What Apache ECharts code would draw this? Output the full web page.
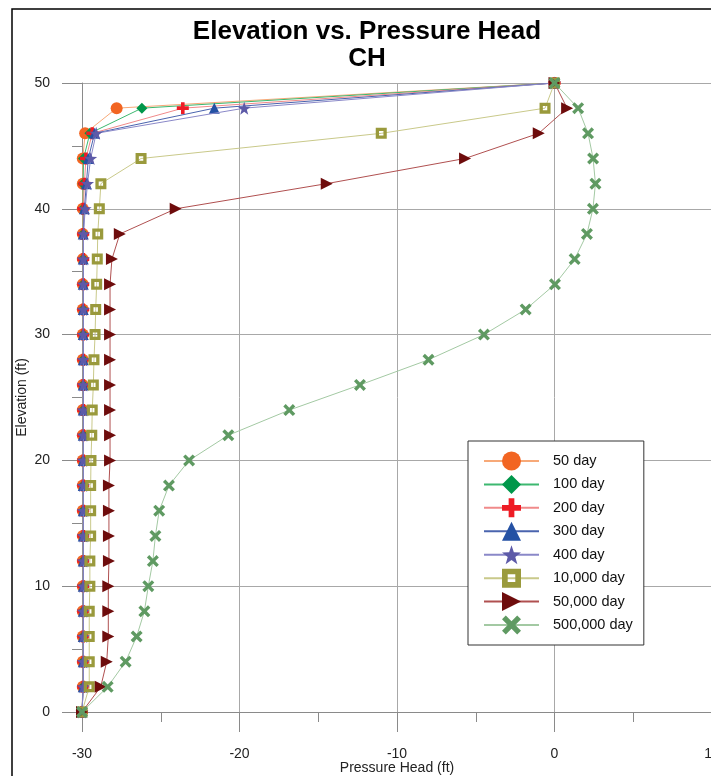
<!DOCTYPE html>
<html>
<head>
<meta charset="utf-8">
<script src="https://cdn.jsdelivr.net/npm/echarts@6/dist/echarts.min.js"></script>
<style>
html,body{margin:0;padding:0;background:#fff;}
#chart{width:711px;height:776px;}
</style>
</head>
<body>
<div id="chart"></div>
<script>
// Elevation (ft) for every point, bottom to top
const elevation = [0, 2, 4, 6, 8, 10, 12, 14, 16, 18, 20, 22, 24, 26, 28, 30, 32, 34, 36, 38, 40, 42, 44, 46, 48, 50];

// Pressure head (ft) per series, same order as elevation
const day50 = [-30, -29.95, -29.95, -29.95, -29.95, -29.95, -29.95, -29.95, -29.95, -29.95, -29.95, -29.95, -29.95, -29.95, -29.95, -29.95, -29.95, -29.95, -29.95, -29.95, -29.95, -29.95, -29.95, -29.8, -27.8, 0];
const day100 = [-30, -29.93, -29.93, -29.93, -29.93, -29.93, -29.93, -29.93, -29.93, -29.93, -29.93, -29.93, -29.93, -29.93, -29.93, -29.93, -29.93, -29.93, -29.93, -29.93, -29.93, -29.93, -29.9, -29.5, -26.2, 0];
const day200 = [-30, -29.92, -29.92, -29.92, -29.92, -29.92, -29.92, -29.92, -29.92, -29.92, -29.92, -29.92, -29.92, -29.92, -29.92, -29.92, -29.92, -29.92, -29.92, -29.92, -29.92, -29.85, -29.75, -29.35, -23.6, 0];
const day300 = [-30, -29.92, -29.92, -29.92, -29.92, -29.92, -29.92, -29.92, -29.92, -29.92, -29.92, -29.92, -29.92, -29.92, -29.92, -29.92, -29.92, -29.92, -29.92, -29.92, -29.85, -29.72, -29.6, -29.2, -21.6, 0];
const day400 = [-30, -29.92, -29.92, -29.92, -29.92, -29.92, -29.92, -29.92, -29.92, -29.92, -29.92, -29.92, -29.92, -29.92, -29.92, -29.92, -29.92, -29.92, -29.92, -29.9, -29.8, -29.65, -29.45, -29.1, -19.7, 0];
const day10000 = [-30, -29.54, -29.54, -29.54, -29.54, -29.5, -29.5, -29.45, -29.45, -29.45, -29.43, -29.38, -29.35, -29.28, -29.24, -29.17, -29.13, -29.07, -29.03, -29.0, -28.9, -28.8, -26.25, -11.0, -0.6, 0];
const day50000 = [-30, -28.81, -28.43, -28.33, -28.33, -28.33, -28.29, -28.29, -28.29, -28.29, -28.22, -28.22, -28.22, -28.22, -28.22, -28.22, -28.22, -28.22, -28.1, -27.6, -24.05, -14.46, -5.68, -1.0, 0.8, 0];
const day500000 = [-30, -28.37, -27.23, -26.53, -26.04, -25.79, -25.5, -25.34, -25.1, -24.48, -23.2, -20.71, -16.84, -12.35, -8.0, -4.48, -1.83, 0.03, 1.28, 2.06, 2.44, 2.6, 2.45, 2.13, 1.5, 0];

const seriesNames = ['50 day', '100 day', '200 day', '300 day', '400 day', '10,000 day', '50,000 day', '500,000 day'];
const seriesValues = [day50, day100, day200, day300, day400, day10000, day50000, day500000];

const titleText = 'Elevation vs. Pressure Head\nCH';
const xTitle = 'Pressure Head (ft)';
const yTitle = 'Elevation (ft)';

// styling (not data)
const FONT = '"Liberation Sans", Arial, sans-serif';
const markerColors = ['#f26522', '#00974a', '#ee1c25', '#2451a4', '#5d5aa8', '#9a9a3c', '#6e0c0c', '#5f9a62'];
const lineColors   = ['#f7a978', '#3db870', '#f08a8a', '#4a64ae', '#8a88c8', '#c9c98a', '#b05050', '#a3c9a3'];
const symbols = [
  'circle',
  'diamond',
  'path://M3.5,0H6.5V3.5H10V6.5H6.5V10H3.5V6.5H0V3.5H3.5Z',
  'triangle',
  'path://M5,0L6.18,3.38L9.76,3.46L6.9,5.62L7.94,9.05L5,7L2.06,9.05L3.1,5.62L0.24,3.46L3.82,3.38Z',
  'path://M0,0H10V10H0Z M3,3V7H7V3Z',
  'path://M0,0L10,5L0,10Z',
  'path://M0,2L2,0L5,3L8,0L10,2L7,5L10,8L8,10L5,7L2,10L0,8L3,5Z'
];
const symbolSizes = [12, 11, 12, 11, 13, 11, 12, 12];

const series = seriesNames.map((name, i) => ({
  name: name,
  type: 'line',
  data: seriesValues[i].map((v, k) => [v, elevation[k]]),
  symbol: symbols[i],
  symbolSize: symbolSizes[i],
  showAllSymbol: true,
  lineStyle: { color: lineColors[i], width: 1 },
  itemStyle: { color: markerColors[i] },
  emphasis: { disabled: true },
  z: 2 + i
}));

const chart = echarts.init(document.getElementById('chart'), null, { renderer: 'canvas' });
chart.setOption({
  animation: false,
  backgroundColor: '#ffffff',
  textStyle: { fontFamily: FONT },
  title: {
    text: titleText,
    left: 367,
    top: 18,
    padding: 0,
    textAlign: 'center',
    textStyle: { fontFamily: FONT, fontSize: 26, fontWeight: 'bold', color: '#000', lineHeight: 27.5 }
  },
  graphic: [{
    type: 'rect',
    shape: { x: 12, y: 9, width: 760, height: 820 },
    style: { fill: 'none', stroke: '#000', lineWidth: 1.5 },
    z: 100
  }],
  legend: {
    orient: 'vertical',
    left: 468,
    top: 441,
    itemWidth: 55,
    itemHeight: 23.75,
    itemGap: 4.43,
    padding: [10.5, 11, 10.5, 15],
    backgroundColor: '#ffffff',
    borderColor: '#333',
    borderWidth: 1,
    borderRadius: 0,
    textStyle: { fontFamily: FONT, fontSize: 14.5, color: '#111', padding: [0, 0, 0, 9] },
    data: seriesNames,
    z: 20
  },
  grid: { left: 82, top: 83, width: 630, height: 629, containLabel: false, outerBoundsMode: 'none' },
  xAxis: {
    type: 'value',
    min: -30, max: 10, interval: 10,
    name: xTitle,
    nameLocation: 'middle',
    nameGap: 49,
    nameMoveOverlap: false,
    nameTextStyle: { fontFamily: FONT, fontSize: 14, color: '#222' },
    axisLine: { show: true, onZero: false, lineStyle: { color: '#8a8a8a', width: 1 } },
    axisTick: { show: true, length: 20, lineStyle: { color: '#8a8a8a' } },
    minorTick: { show: true, splitNumber: 2, length: 10, lineStyle: { color: '#8a8a8a' } },
    axisLabel: { margin: 35, fontFamily: FONT, fontSize: 14, color: '#222' },
    splitLine: { show: true, lineStyle: { color: '#a8a8a8', width: 1 } }
  },
  yAxis: {
    type: 'value',
    min: 0, max: 50, interval: 10,
    name: yTitle,
    nameLocation: 'middle',
    nameGap: 53,
    nameMoveOverlap: false,
    nameTextStyle: { fontFamily: FONT, fontSize: 14, color: '#222' },
    axisLine: { show: true, onZero: false, lineStyle: { color: '#8a8a8a', width: 1 } },
    axisTick: { show: true, length: 20, lineStyle: { color: '#8a8a8a' } },
    minorTick: { show: true, splitNumber: 2, length: 10, lineStyle: { color: '#8a8a8a' } },
    axisLabel: { margin: 32, fontFamily: FONT, fontSize: 14, color: '#222' },
    splitLine: { show: true, lineStyle: { color: '#a8a8a8', width: 1 } }
  },
  series: series
});
</script>
</body>
</html>
